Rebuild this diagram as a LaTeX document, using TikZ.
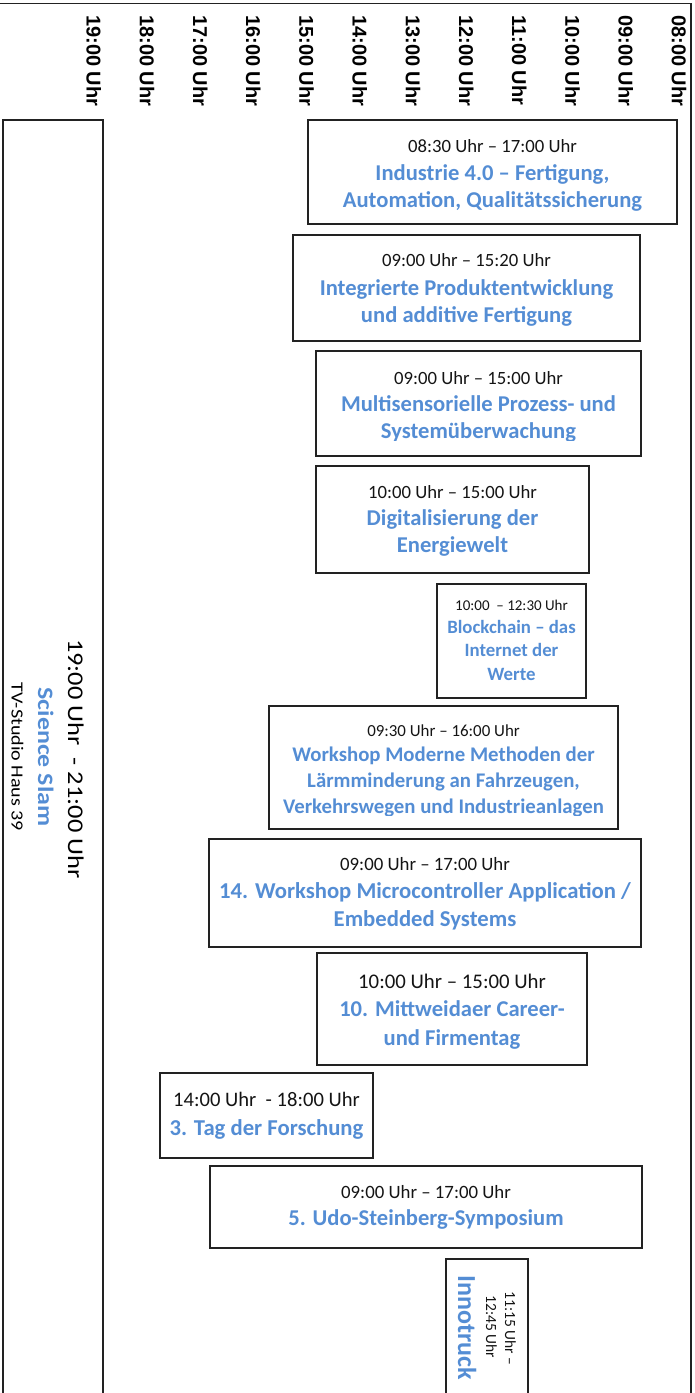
\documentclass[tikz,border=0pt]{standalone}
\usepackage{fontspec}
\setmainfont{Carlito}
\newfontfamily\hdrfont{Liberation Sans}
\newfontfamily\slamfont{Carlito}[FakeStretch=1.18]
\definecolor{evblue}{RGB}{84,141,212}
\definecolor{framec}{RGB}{34,34,34}
\begin{document}
\begin{tikzpicture}[x=1pt,y=-1pt,
  evbox/.style={draw=framec, line width=1.5pt, inner sep=0pt, rectangle},
  tlabel/.style={font=\hdrfont\bfseries\fontsize{20}{24}\selectfont, text=black, rotate=-90, anchor=base west, inner sep=0pt},
  ttime/.style={anchor=base, inner sep=0pt, text=black!92, font=\fontsize{#1}{#1}\selectfont},
  ttitle/.style 2 args={anchor=base, inner sep=0pt, text=evblue, align=center, font=\bfseries\fontsize{#1}{#2}\selectfont},
]
\useasboundingbox (0,0) rectangle (695,1393);
\draw[framec, line width=1.5pt] (0,3.5) -- (691,3.5) -- (691,1393);
% time axis
\foreach \h/\t in {8/08,9/09,10/10,11/11,12/12,13/13,14/14,15/15,16/16,17/17,18/18,19/19}
  \node[tlabel] (h\h) at ({679-53.2*(\h-8)-7.2},15) {\t:00 Uhr};
% Box 1 (title anchor = baseline of last line)
\node[evbox, minimum width=369pt, minimum height=104pt] (b1) at (492.5,172) {};
\node[ttime=18.7] (t1) at (492.5,152) {08:30 Uhr – 17:00 Uhr};
\begin{scope}
\clip (308,120) rectangle (677,210);
\node[ttitle={22.6}{27}] (n1) at (492.5,207.5) {Industrie 4.0 – Fertigung,\\Automation, Qualitätssicherung};
\end{scope}
% Box 2
\node[evbox, minimum width=347pt, minimum height=106pt] (b2) at (466.5,288) {};
\node[ttime=18.7] (t2) at (466.5,266.7) {09:00 Uhr – 15:20 Uhr};
\node[ttitle={22.6}{27}] (n2) at (466.5,322) {Integrierte Produktentwicklung\\und additive Fertigung};
% Box 3
\node[evbox, minimum width=325pt, minimum height=105pt] (b3) at (478.5,403.5) {};
\node[ttime=18.7] (t3) at (478.5,384.3) {09:00 Uhr – 15:00 Uhr};
\begin{scope}
\clip (316,351) rectangle (641,440);
\node[ttitle={22.6}{27.5}] (n3) at (478.5,438.5) {Multisensorielle Prozess- und\\Systemüberwachung};
\end{scope}
% Box 4
\node[evbox, minimum width=273pt, minimum height=107pt] (b4) at (452.5,519.5) {};
\node[ttime=18.7] (t4) at (452.5,498) {10:00 Uhr – 15:00 Uhr};
\node[ttitle={22.6}{27}] (n4) at (452.5,552) {Digitalisierung der\\Energiewelt};
% Box 5
\node[evbox, minimum width=149pt, minimum height=114pt] (b5) at (511.5,641) {};
\node[ttime=15] (t5) at (511.5,610.7) {10:00\ \ – 12:30 Uhr};
\node[ttitle={18.8}{23.3}] (n5) at (511.5,680) {Blockchain – das\\Internet der\\Werte};
% Box 6
\node[evbox, minimum width=349pt, minimum height=123pt] (b6) at (443.5,767.5) {};
\node[ttime=16.9] (t6) at (443.5,736.7) {09:30 Uhr – 16:00 Uhr};
\begin{scope}
\clip (269,706) rectangle (618,815);
\node[ttitle={20.8}{26}] (n6) at (443.5,813.7) {Workshop Moderne Methoden der\\Lärmminderung an Fahrzeugen,\\Verkehrswegen und Industrieanlagen};
\end{scope}
% Box 7
\node[evbox, minimum width=432pt, minimum height=108pt] (b7) at (425,893) {};
\node[ttime=18.8] (t7) at (425,870) {09:00 Uhr – 17:00 Uhr};
\node[ttitle={22.7}{28.3}] (n7) at (425,926.6) {14. Workshop Microcontroller Application /\\Embedded Systems};
% Box 8
\node[evbox, minimum width=270pt, minimum height=112pt] (b8) at (452,1009) {};
\node[ttime=20.8] (t8) at (452,988.3) {10:00 Uhr – 15:00 Uhr};
\node[ttitle={22.6}{28.3}] (n8) at (452,1045) {10. Mittweidaer Career-\\und Firmentag};
% Box 9
\node[evbox, minimum width=213pt, minimum height=85pt] (b9) at (266.5,1115.5) {};
\node[ttime=20.6] (t9) at (266.5,1106.7) {14:00 Uhr\ \ - 18:00 Uhr};
\node[ttitle={22.7}{27}] (n9) at (266.5,1135) {3. Tag der Forschung};
% Box 10
\node[evbox, minimum width=432pt, minimum height=82pt] (b10) at (426,1207) {};
\node[ttime=18.8] (t10) at (426,1198.3) {09:00 Uhr – 17:00 Uhr};
\node[ttitle={22.6}{27}] (n10) at (426,1225) {5. Udo-Steinberg-Symposium};
% Box 11 Innotruck
\node[evbox, minimum width=82pt, minimum height=141pt] (b11) at (487,1329.5) {};
\node[ttime=15.5, rotate=-90] (t11a) at (505,1328.5) {11:15 Uhr –};
\node[ttime=15.5, rotate=-90] (t11b) at (486,1327) {12:45 Uhr};
\node[ttitle={26}{30}, rotate=-90] (n11) at (458,1328) {Innotruck};
% Box 12 Science Slam
\node[evbox, minimum width=100pt, minimum height=1280pt] (b12) at (53,760) {};
\node[anchor=base, inner sep=0pt, rotate=-90, text=black, font=\slamfont\fontsize{22.4}{26}\selectfont] (t12) at (68,758.7) {19:00 Uhr\ \ - 21:00 Uhr};
\node[anchor=base, inner sep=0pt, rotate=-90, text=evblue, font=\slamfont\bfseries\fontsize{22}{26}\selectfont] (n12) at (38,757) {Science Slam};
\node[anchor=base, inner sep=0pt, rotate=-90, text=black, font=\slamfont\fontsize{17}{20}\selectfont] (p12) at (11.7,757) {TV-Studio Haus 39};
\end{tikzpicture}
\end{document}
